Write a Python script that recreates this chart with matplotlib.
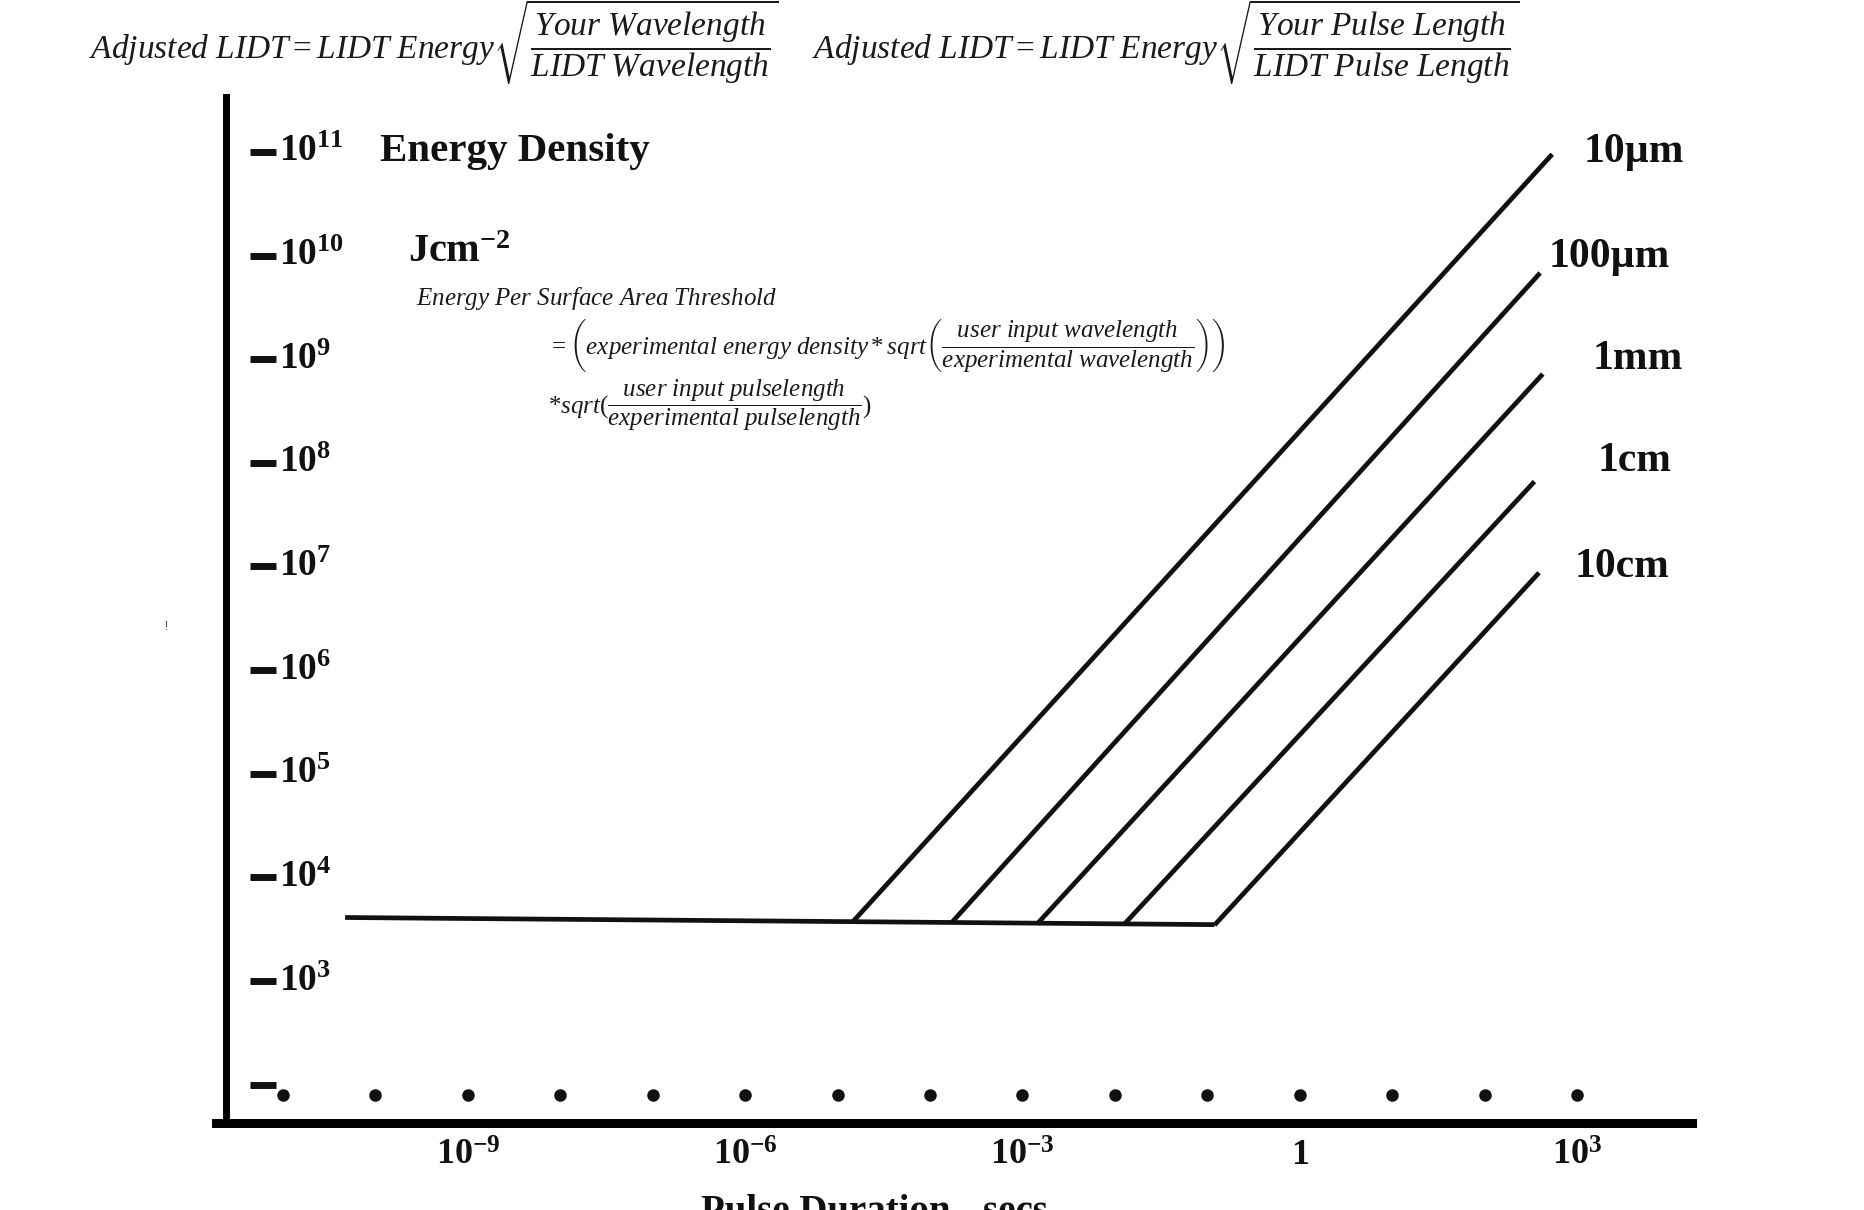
import matplotlib
matplotlib.use('Agg')
import matplotlib.pyplot as plt
from matplotlib.transforms import blended_transform_factory
from matplotlib.ticker import NullLocator

plt.rcParams['mathtext.fontset'] = 'custom'
plt.rcParams['mathtext.it'] = 'Liberation Serif:italic'
plt.rcParams['mathtext.rm'] = 'Liberation Serif'
plt.rcParams['mathtext.bf'] = 'Liberation Serif:bold'

W, H = 1864, 1210

# flat threshold at short pulses
plateau_t = [4.7e-11, 0.12]
plateau_e = [4.1e3, 3.5e3]

# sloped threshold lines, one per wavelength
line_labels = ['10µm', '100µm', '1mm', '1cm', '10cm']
start_t = [1.45e-5, 1.7e-4, 1.45e-3, 1.26e-2, 0.12]
start_e = [3.7e3, 3.63e3, 3.57e3, 3.52e3, 3.47e3]
end_t = [540, 400, 427, 347, 389]
end_e = [9.5e10, 6.8e9, 7.2e8, 6.6e7, 8.7e6]

y_exps = [11, 10, 9, 8, 7, 6, 5, 4, 3]
y_dashes = [1e11, 1e10, 1e9, 1e8, 1e7, 1e6, 1e5, 1e4, 1e3, 1e2]
x_ticks = [1e-9, 1e-6, 1e-3, 1, 1e3]
x_tick_labels = [r'$\mathregular{10^{-9}}$', r'$\mathregular{10^{-6}}$',
                 r'$\mathregular{10^{-3}}$', '1', r'$\mathregular{10^{3}}$']
dot_t = [1e-11, 1e-10, 1e-9, 1e-8, 1e-7, 1e-6, 1e-5, 1e-4, 1e-3,
         1e-2, 1e-1, 1, 1e1, 1e2, 1e3]
dot_e = [80] * len(dot_t)

fig = plt.figure(figsize=(W / 100, H / 100), dpi=100)
ax = fig.add_axes([216 / W, 1 - 1123 / H, (1692 - 216) / W, (1123 - 97) / H])
ax.set_xscale('log')
ax.set_yscale('log')
ax.set_xlim(10 ** -11.725, 10 ** 4.245)
ax.set_ylim(10 ** 1.63, 10 ** 11.53)
ax.xaxis.set_minor_locator(NullLocator())
ax.yaxis.set_minor_locator(NullLocator())
ax.tick_params(which='both', length=0, labelbottom=False, labelleft=False)
for s in ['top', 'right']:
    ax.spines[s].set_visible(False)
ax.spines['left'].set_position(('axes', 0.0068))
ax.spines['left'].set_linewidth(5)
ax.spines['bottom'].set_linewidth(6.5)
ax.patch.set_alpha(0)

ink = '#111111'
ax.plot(plateau_t, plateau_e, color=ink, lw=3.4, solid_capstyle='butt')
for t0, e0, t1, e1 in zip(start_t, start_e, end_t, end_e):
    ax.plot([t0, t1], [e0, e1], color=ink, lw=3.4, solid_capstyle='butt')

ax.plot(dot_t, dot_e, 'o', color=ink, ms=8, clip_on=False)

# y "ticks": dashes and labels floating right of the axis
ytr = blended_transform_factory(ax.transAxes, ax.transData)
ax.plot([0.0318] * len(y_dashes), y_dashes, '_', color=ink, ms=19, mew=5,
        transform=ytr, clip_on=False)
for e in y_exps:
    ax.text(0.0427, 10.0 ** e, r'$\mathregular{10^{%d}}$' % e, transform=ytr,
            ha='left', va='center', fontsize=27, fontweight='bold',
            family='Liberation Serif', color=ink)

xtr = blended_transform_factory(ax.transData, fig.transFigure)
for t, lab in zip(x_ticks, x_tick_labels):
    ax.text(t, 1 - 1156 / H, lab, transform=xtr, ha='center', va='center',
            fontsize=26, fontweight='bold', family='Liberation Serif', color=ink)

bold = dict(fontweight='bold', family='Liberation Serif', color=ink)
fig.text(380 / W, 1 - 152 / H, 'Energy Density', fontsize=29.5, va='center', **bold)
fig.text(408 / W, 1 - 253 / H, r'$\mathregular{Jcm^{-2}}$', fontsize=29, va='center', **bold)

label_pos = [(1634, 152), (1609, 257), (1638, 359), (1635, 461), (1622, 567)]
for lab, (px, py) in zip(line_labels, label_pos):
    fig.text(px / W, 1 - py / H, lab, fontsize=30, ha='center', va='center', **bold)

fig.text(701 / W, 1 - 1194 / H, 'Pulse Duration - secs', fontsize=28, va='top', **bold)

# formulas
fml = dict(color='#1a1a1a', va='center', ha='left')
fig.text(89 / W, 1 - 42 / H,
         r'$Adjusted\ LIDT = LIDT\ Energy\sqrt{\dfrac{Your\ Wavelength}{LIDT\ Wavelength}}$',
         fontsize=24, **fml)
fig.text(812 / W, 1 - 42 / H,
         r'$Adjusted\ LIDT = LIDT\ Energy\sqrt{\dfrac{Your\ Pulse\ Length}{LIDT\ Pulse\ Length}}$',
         fontsize=24, **fml)

fig.text(416 / W, 1 - 298 / H, r'$Energy\ Per\ Surface\ Area\ Threshold$', fontsize=18, **fml)
fig.text(548 / W, 1 - 345 / H,
         r'$=\left(experimental\ energy\ density * sqrt\left(\dfrac{user\ input\ wavelength}{experimental\ wavelength}\right)\right)$',
         fontsize=18, **fml)
fig.text(548 / W, 1 - 405 / H,
         r'$* sqrt(\dfrac{user\ input\ pulselength}{experimental\ pulselength})$',
         fontsize=18, **fml)

fig.text(166 / W, 1 - 626 / H, '!', fontsize=9, color='#555555', ha='center', va='center')

fig.savefig('out.png', dpi=100)
